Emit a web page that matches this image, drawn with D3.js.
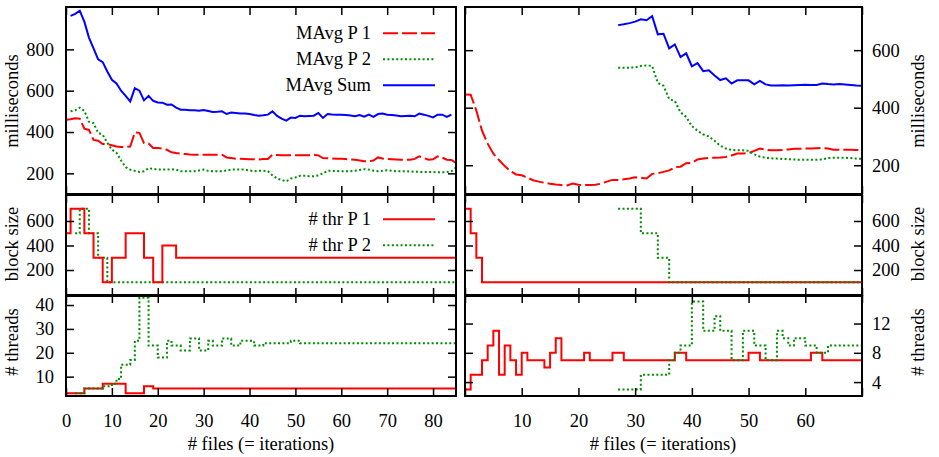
<!DOCTYPE html>
<html>
<head>
<meta charset="utf-8">
<script src="https://cdn.jsdelivr.net/npm/d3@7"></script>
</head>
<body style="margin:0;background:#fff">
<svg id="chart" width="939" height="457"></svg>
<script>

// ---- top row: moving average of time per file (ms), first x given by *From
const leftMsP1From = 0;
const leftMsP1 = [459,
  462,467,465,416,410,362,358,342,342,336, 330,328,328,330,398,396,346,344,323,323,
  320,314,302,298,295,293,291,290,290,290, 290,290,290,290,277,274,271,270,269,268,
  268,267,269,269,290,289,288,287,287,287, 287,287,288,290,287,274,273,272,271,270,
  269,267,266,262,258,258,262,277,272,269, 268,267,266,266,266,270,282,274,266,268,
  282,276,266,265,250];
const leftMsP2From = 1;
const leftMsP2 = [
  500,505,518,502,450,443,396,387,348,315, 300,262,230,218,212,207,210,225,222,218,
  218,218,220,218,210,210,210,210,214,218, 212,210,210,210,214,218,218,218,218,214,
  210,212,212,210,190,175,168,161,175,180, 188,188,186,186,190,200,212,212,211,210,
  210,210,212,216,220,218,213,210,212,215, 212,210,210,210,209,208,207,207,206,206,
  205,205,206,210,228];
const leftMsSumFrom = 1;
const leftMsSum = [
  962,972,987,934,857,805,752,738,693,653, 635,600,575,548,612,600,553,575,551,543,
  542,532,533,518,508,508,505,505,503,507, 502,497,498,500,487,494,492,490,489,487,
  482,479,481,484,500,478,465,455,470,468, 479,476,478,479,492,468,487,485,484,484,
  482,480,476,482,474,484,473,487,490,484, 482,480,476,478,479,476,489,484,478,471,
  484,484,473,484];

const rightMsP1From = 0;
const rightMsP1 = [
  446,445,390,320,275,240,218,197,180,168, 165,157,148,143,139,136,133,131,130,136,
  132,131,131,132,136,143,149,149,151,154, 158,157,154,170,172,177,182,193,195,207,
  208,220,223,225,226,227,229,234,241,241, 242,250,258,254,252,252,253,255,257,257,
  258,258,259,260,258,254,254,254,254,253, 252];
const rightMsP2From = 27;
const rightMsP2 = [
  539,539,539,540,545,547,545,486,476,430, 423,384,368,336,320,307,300,285,268,258,
  253,252,252,250,238,230,226,224,223,222, 221,220,219,219,219,219,220,225,226,226,
  226,225,223,222];
const rightMsSumFrom = 27;
const rightMsSum = [
  687,690,694,699,707,704,718,655,657,606, 620,576,589,544,555,527,530,512,496,502,
  484,495,495,495,481,493,481,477,477,478, 477,478,479,480,479,479,484,482,481,482,
  481,479,477,476];

// ---- middle row: block size (step changes)
const leftBlockP1X = [0, 1, 4, 6, 8, 10, 13, 17, 19, 21, 24, 85];
const leftBlockP1  = [500, 700, 500, 300, 100, 300, 500, 300, 100, 400, 300, 300];
const leftBlockP2X = [2, 3, 5, 7, 9, 85];
const leftBlockP2  = [500, 700, 500, 300, 100, 100];
const rightBlockP1X = [0, 1, 2, 3, 70];
const rightBlockP1  = [700, 500, 300, 100, 100];
const rightBlockP2X = [27, 31, 34, 36, 70];
const rightBlockP2  = [700, 500, 300, 100, 100];

// ---- bottom row: number of threads (step changes)
const leftThrP1X = [0, 4, 8, 13, 17, 19, 85];
const leftThrP1  = [3, 5, 7, 3, 6, 5, 5];
const leftThrP2X = [2, 4, 8, 10, 11, 12, 14, 15, 16, 18, 20, 22, 23, 25, 27, 29, 31, 32, 34, 36, 38, 41, 43, 49, 51, 85];
const leftThrP2  = [3, 5, 6, 7, 9, 15, 17, 25, 43, 23, 18, 25, 23, 21, 26, 21, 25, 23, 26, 23, 25, 23, 24, 25, 24, 24];
const rightThrP1X = [0, 1, 3, 4, 5, 6, 7, 8, 9, 10, 11, 14, 15, 16, 17, 21, 22, 26, 28, 37, 39, 50, 52, 61, 63, 70];
const rightThrP1  = [3, 5, 7, 9, 11, 5, 9, 7, 5, 8, 7, 6, 8, 10, 7, 8, 7, 8, 7, 8, 7, 8, 7, 8, 7, 7];
const rightThrP2X = [27, 31, 36, 37, 38, 40, 42, 44, 45, 47, 49, 51, 53, 55, 56, 57, 58, 60, 62, 64, 70];
const rightThrP2  = [3, 5, 7, 8, 9, 15, 11, 13, 11, 7, 11, 9, 7, 11, 10, 9, 10, 9, 8, 9, 9];

// ---- ticks
const leftXTicks = [0, 10, 20, 30, 40, 50, 60, 70, 80];
const rightXTicks = [0, 10, 20, 30, 40, 50, 60, 70];
const rightXLabels = [10, 20, 30, 40, 50, 60];
const leftMsTicks = [200, 400, 600, 800];
const rightMsTicks = [200, 400, 600];
const blockTicks = [200, 400, 600];
const leftThrTicks = [10, 20, 30, 40];
const rightThrTicks = [4, 8, 12];

const RED = "#ff0000", GREEN = "#008c00", BLUE = "#0000ff";
const DASH = "15,4", DOT = "2,2.4";
const FONT = "'Liberation Serif', 'DejaVu Serif', serif";

const svg = d3.select("#chart");

const cols = {
  left:  {x0: 66,  x1: 456, dom: [0, 85], ticks: leftXTicks,  labels: leftXTicks,   side: "left"},
  right: {x0: 465, x1: 862, dom: [0, 70], ticks: rightXTicks, labels: rightXLabels, side: "right"}
};
const rows = [
  {y0: 7,   y1: 194, title: "milliseconds", ty: 101},
  {y0: 195, y1: 296, title: "block size",   ty: 244},
  {y0: 295, y1: 396, title: "# threads",    ty: 342}
];

let clipN = 0;
function panel(col, row, yDom, yTicks, xLabels) {
  const x = d3.scaleLinear().domain(col.dom).range([col.x0, col.x1]);
  const y = d3.scaleLinear().domain(yDom).range([row.y1, row.y0]);
  const id = "clip" + (clipN++);
  svg.append("clipPath").attr("id", id).append("rect")
    .attr("x", col.x0).attr("y", row.y0)
    .attr("width", col.x1 - col.x0).attr("height", row.y1 - row.y0);
  const g = svg.append("g").attr("clip-path", `url(#${id})`);

  // tick marks, inward on all four sides
  const tk = [
    [d3.axisTop(x).tickValues(col.ticks), 0, row.y0],
    [d3.axisBottom(x).tickValues(col.ticks), 0, row.y1],
    [d3.axisLeft(y).tickValues(yTicks), col.x0, 0],
    [d3.axisRight(y).tickValues(yTicks), col.x1, 0]
  ];
  tk.forEach(function(t) {
    const a = svg.append("g").attr("transform", `translate(${t[1]},${t[2]})`)
      .call(t[0].tickSize(-8).tickFormat(""));
    a.select(".domain").remove();
    a.selectAll("line").attr("stroke-width", 1.5);
  });

  // y labels on the outer side
  const ya = col.side == "left"
    ? d3.axisLeft(y).tickValues(yTicks).tickSize(0).tickPadding(12)
    : d3.axisRight(y).tickValues(yTicks).tickSize(0).tickPadding(10);
  svg.append("g").attr("transform", `translate(${col.side == "left" ? col.x0 : col.x1},0)`)
    .call(ya).select(".domain").remove();

  if (xLabels) {
    svg.append("g").attr("transform", `translate(0,${row.y1})`)
      .call(d3.axisBottom(x).tickValues(col.labels).tickSize(0).tickPadding(18))
      .select(".domain").remove();
  }

  const tx = col.side == "left" ? 17.5 : 923.5;
  svg.append("text").attr("transform", `translate(${tx},${row.ty}) rotate(-90)`)
    .attr("text-anchor", "middle").text(row.title);

  svg.append("rect").attr("x", col.x0).attr("y", row.y0)
    .attr("width", col.x1 - col.x0).attr("height", row.y1 - row.y0)
    .attr("fill", "none").attr("stroke", "#000").attr("stroke-width", 2);

  return {x: x, y: y, g: g};
}

function seq(from, n) { return d3.range(from, from + n); }

function series(p, xs, ys, color, dash, curve) {
  p.g.append("path").datum(ys.map(function(v, i) { return [xs[i], v]; }))
    .attr("fill", "none").attr("stroke", color).attr("stroke-width", 2)
    .attr("stroke-dasharray", dash)
    .attr("d", d3.line().x(d => p.x(d[0])).y(d => p.y(d[1])).curve(curve || d3.curveLinear));
}

function legend(items, y0) {
  items.forEach(function(it, i) {
    const y = y0 + i * 26;
    svg.append("text").attr("x", 371).attr("y", y + 5.5).attr("text-anchor", "end").text(it[0]);
    svg.append("line").attr("x1", 383).attr("x2", 435).attr("y1", y).attr("y2", y)
      .attr("stroke", it[1]).attr("stroke-width", 2).attr("stroke-dasharray", it[2]);
  });
}

// top row
const pTL = panel(cols.left, rows[0], [100, 1005], leftMsTicks, false);
series(pTL, seq(leftMsP1From, leftMsP1.length), leftMsP1, RED, DASH);
series(pTL, seq(leftMsP2From, leftMsP2.length), leftMsP2, GREEN, DOT);
series(pTL, seq(leftMsSumFrom, leftMsSum.length), leftMsSum, BLUE, null);

const pTR = panel(cols.right, rows[0], [100, 750], rightMsTicks, false);
series(pTR, seq(rightMsP1From, rightMsP1.length), rightMsP1, RED, DASH);
series(pTR, seq(rightMsP2From, rightMsP2.length), rightMsP2, GREEN, DOT);
series(pTR, seq(rightMsSumFrom, rightMsSum.length), rightMsSum, BLUE, null);

legend([["MAvg P 1", RED, DASH], ["MAvg P 2", GREEN, DOT], ["MAvg Sum", BLUE, null]], 33.3);

// middle row
const pML = panel(cols.left, rows[1], [-12, 812], blockTicks, false);
series(pML, leftBlockP2X, leftBlockP2, GREEN, DOT, d3.curveStepAfter);
series(pML, leftBlockP1X, leftBlockP1, RED, null, d3.curveStepAfter);

const pMR = panel(cols.right, rows[1], [-12, 812], blockTicks, false);
series(pMR, rightBlockP1X, rightBlockP1, RED, null, d3.curveStepAfter);
series(pMR, rightBlockP2X, rightBlockP2, GREEN, DOT, d3.curveStepAfter);

legend([["# thr P 1", RED, null], ["# thr P 2", GREEN, DOT]], 219.3);

// bottom row
const pBL = panel(cols.left, rows[2], [1.9, 44.2], leftThrTicks, true);
series(pBL, leftThrP1X, leftThrP1, RED, null, d3.curveStepAfter);
series(pBL, leftThrP2X, leftThrP2, GREEN, DOT, d3.curveStepAfter);

const pBR = panel(cols.right, rows[2], [2.1, 15.9], rightThrTicks, true);
series(pBR, rightThrP1X, rightThrP1, RED, null, d3.curveStepAfter);
series(pBR, rightThrP2X, rightThrP2, GREEN, DOT, d3.curveStepAfter);

svg.append("text").attr("x", 261).attr("y", 450).attr("text-anchor", "middle").text("# files (= iterations)");
svg.append("text").attr("x", 663).attr("y", 450).attr("text-anchor", "middle").text("# files (= iterations)");

// serif text everywhere, set inline so axis defaults don't win
svg.selectAll("g").attr("font-family", null).attr("font-size", null);
svg.selectAll("text")
  .style("font-family", FONT)
  .style("font-size", "18.5px")
  .style("fill", "#000");

</script>
</body>
</html>
